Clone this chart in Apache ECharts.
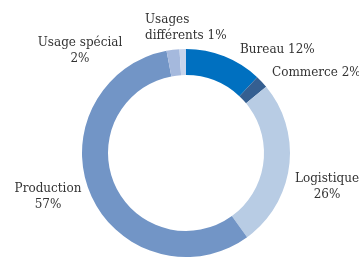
<!DOCTYPE html>
<html>
<head>
<meta charset="utf-8">
<script src="https://cdn.jsdelivr.net/npm/echarts@6/dist/echarts.min.js"></script>
<style>
  html, body { margin: 0; padding: 0; background: #fff; }
  #main { width: 359px; height: 259px; }
</style>
</head>
<body>
<div id="main"></div>
<script>
// données (ordre horaire depuis midi)
const categories = ['Bureau', 'Commerce', 'Logistique', 'Production', 'Usage spécial', 'Usages différents']
const values = [12, 2, 26, 57, 2, 1]
const labelTexts = ['Bureau 12%', 'Commerce 2%', 'Logistique\n26%', 'Production\n57%', 'Usage spécial\n2%', 'Usages\ndifférents 1%']
const colors = ['#0070c0', '#355f91', '#b8cce4', '#7295c6', '#a5b9dd', '#c8d5ec']

// position des étiquettes
const labelPos = [
  { x: 240, y: 50, align: 'left' },
  { x: 272, y: 73, align: 'left' },
  { x: 327, y: 187, align: 'center' },
  { x: 48, y: 197, align: 'center' },
  { x: 80, y: 51, align: 'center' },
  { x: 145, y: 28, align: 'left' }
]

const data = categories.map((name, i) => ({
  name: name,
  value: values[i],
  itemStyle: { color: colors[i] },
  label: { formatter: labelTexts[i], align: labelPos[i].align }
}))

const myChart = echarts.init(document.getElementById('main'))
const option = {
  animation: false,
  series: [
    {
      type: 'pie',
      center: [186, 153],
      radius: [78, 104],
      startAngle: 90,
      clockwise: true,
      data: data,
      label: {
        show: true,
        position: 'outside',
        color: '#333',
        fontFamily: 'DejaVu Serif',
        fontSize: 12,
        lineHeight: 16,
        overflow: 'none',
        width: 200
      },
      labelLine: { show: false },
      labelLayout: function (params) {
        const p = labelPos[params.dataIndex]
        return { x: p.x, y: p.y, align: p.align, verticalAlign: 'middle' }
      }
    }
  ]
}
myChart.setOption(option)
</script>
</body>
</html>
